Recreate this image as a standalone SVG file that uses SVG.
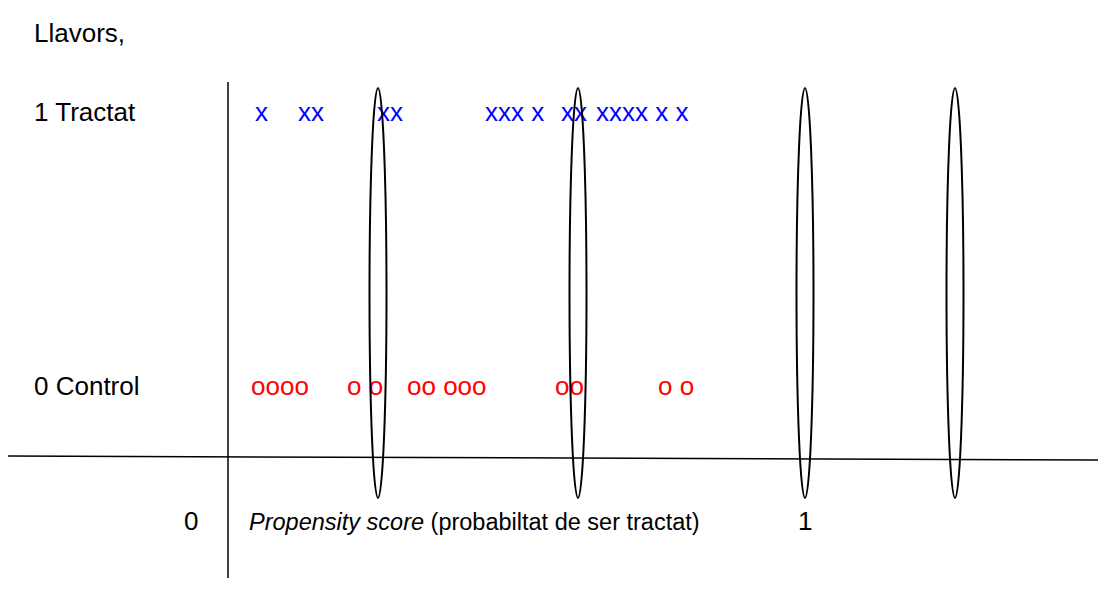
<svg xmlns="http://www.w3.org/2000/svg" width="1098" height="610" viewBox="0 0 1098 610">
<style>
text{font-family:"Liberation Sans",Arial,sans-serif;font-size:26px;}
.lbl{fill:#000;}
.sm{font-size:23.5px;}
.t{fill:#0000ff;}
.c{fill:#ff0000;}
.ln{stroke:#000;stroke-width:1.5;fill:none;}
.el{stroke:#000;stroke-width:2;fill:none;}
</style>
<rect width="1098" height="610" fill="#fff"/>
<g id="labels">
<text class="lbl" x="34" y="42">Llavors,</text>
<text class="lbl" x="34" y="121">1 Tractat</text>
<text class="lbl" x="34" y="395">0 Control</text>
<text class="lbl" x="184" y="530">0</text>
<text class="lbl sm" x="249" y="530"><tspan font-style="italic">Propensity score</tspan> (probabiltat de ser tractat)</text>
<text class="lbl" x="798" y="530">1</text>
</g>
<g id="treated">
<text class="t" x="255" y="121">x</text>
<text class="t" x="298" y="121">xx</text>
<text class="t" x="377" y="121">xx</text>
<text class="t" x="485" y="121">xxx x</text>
<text class="t" x="561" y="121">xx</text>
<text class="t" x="596" y="121">xxxx x x</text>
</g>
<g id="control">
<text class="c" x="251" y="395">oooo</text>
<text class="c" x="347" y="395">o o</text>
<text class="c" x="407" y="395">oo ooo</text>
<text class="c" x="555" y="395">oo</text>
<text class="c" x="658" y="395">o o</text>
</g>
<g id="connectors">
<line class="ln" x1="228" y1="82" x2="228" y2="578"/>
<line class="ln" x1="8" y1="456" x2="1098" y2="460"/>
<ellipse class="el" cx="378" cy="293" rx="8.5" ry="205"/>
<ellipse class="el" cx="578" cy="293" rx="8.5" ry="205"/>
<ellipse class="el" cx="805" cy="293" rx="8.5" ry="205"/>
<ellipse class="el" cx="955" cy="293" rx="8.5" ry="205"/>
</g>
</svg>
